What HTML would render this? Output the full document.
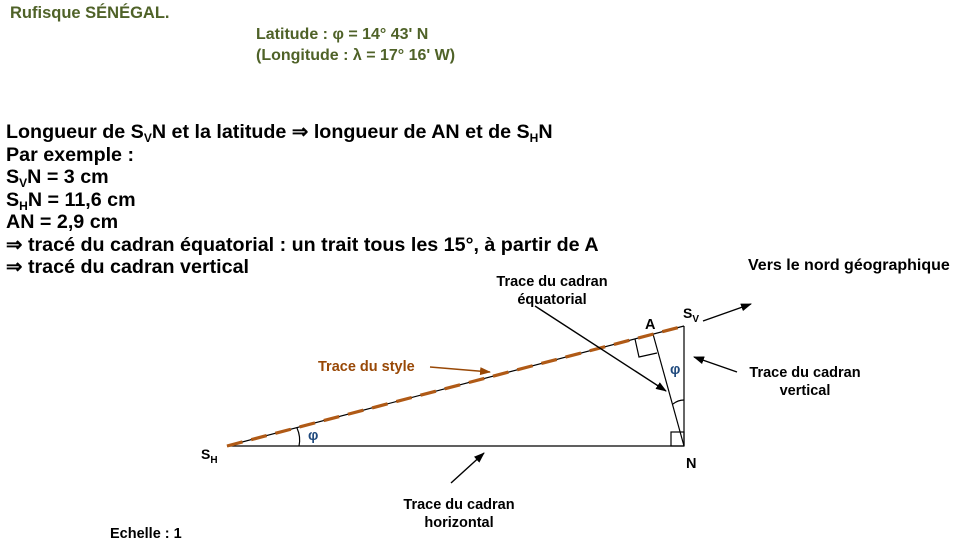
<!DOCTYPE html>
<html><head><meta charset="utf-8"><style>
body{margin:0;width:966px;height:545px;background:#fff;overflow:hidden;font-family:"Liberation Sans",sans-serif;font-weight:bold}
.t{position:absolute;white-space:nowrap}
.g{color:#4f6228;font-size:16.5px}
.b{color:#000;font-size:19.7px;line-height:22.5px}
.s{color:#000;font-size:14.5px;text-align:center}
sub{font-size:12px;vertical-align:0;position:relative;top:4px;line-height:0}
</style></head><body>
<div class="t g" style="left:10px;top:4px">Rufisque SÉNÉGAL.</div>
<div class="t g" style="left:256px;top:24px;line-height:21px;font-size:16px">Latitude : φ = 14° 43' N<br>(Longitude : λ = 17° 16' W)</div>
<div class="t b" style="left:6px;top:121px">Longueur de S<sub>V</sub>N et la latitude ⇒ longueur de AN et de S<sub>H</sub>N<br>Par exemple :<br>S<sub>V</sub>N = 3 cm<br>S<sub>H</sub>N = 11,6 cm<br>AN = 2,9 cm<br>⇒ tracé du cadran équatorial : un trait tous les 15°, à partir de A<br>⇒ tracé du cadran vertical</div>
<div class="t s" style="left:748px;top:257px;font-size:16px;text-align:left">Vers le nord géographique</div>
<div class="t s" style="left:477px;top:273px;line-height:18px;width:150px">Trace du cadran<br>équatorial</div>
<div class="t s" style="left:730px;top:364px;line-height:18px;width:150px">Trace du cadran<br>vertical</div>
<div class="t s" style="left:384px;top:496px;line-height:18px;width:150px">Trace du cadran<br>horizontal</div>
<div class="t s" style="left:318px;top:359px;color:#984806">Trace du style</div>
<div class="t s" style="left:110px;top:526px">Echelle : 1</div>
<div class="t s" style="left:201px;top:446px;font-size:14px">S<span style="font-size:10px;position:relative;top:4px">H</span></div>
<div class="t s" style="left:683px;top:305px;font-size:14px">S<span style="font-size:10px;position:relative;top:4px">V</span></div>
<div class="t s" style="left:645px;top:317px">A</div>
<div class="t s" style="left:686px;top:456px">N</div>
<div class="t s" style="left:308px;top:428px;color:#1f497d">φ</div>
<div class="t s" style="left:670px;top:362px;color:#1f497d">φ</div>
<svg width="966" height="545" style="position:absolute;left:0;top:0">
<defs><marker id="ah" markerWidth="11" markerHeight="8" refX="10" refY="4" orient="auto" markerUnits="userSpaceOnUse"><path d="M0,0L11,4L0,8z" fill="#000"/></marker>
<marker id="ao" markerWidth="11" markerHeight="8" refX="10" refY="4" orient="auto" markerUnits="userSpaceOnUse"><path d="M0,0L11,4L0,8z" fill="#984806"/></marker></defs>
<g stroke="#000" stroke-width="1.2" fill="none">
<line x1="227" y1="446" x2="684" y2="446"/>
<line x1="684" y1="326" x2="684" y2="446"/>
<line x1="227" y1="446" x2="684" y2="326"/>
<line x1="684" y1="446" x2="653" y2="334"/>
<polyline points="635,339 639,357 657,353"/>
<rect x="671" y="432" width="13" height="14"/>
<path d="M673,404 Q678,400 684,400"/>
<path d="M297,428 Q301,437 299,446"/>
</g>
<line x1="227" y1="446" x2="684" y2="326" stroke="#b05a16" stroke-width="3.2" stroke-dasharray="16,9"/>
<g stroke="#000" stroke-width="1.4">
<line x1="703" y1="321" x2="751" y2="304" marker-end="url(#ah)"/>
<line x1="737" y1="372" x2="694" y2="357" marker-end="url(#ah)"/>
<line x1="535" y1="306" x2="666" y2="391" marker-end="url(#ah)"/>
<line x1="451" y1="483" x2="484" y2="453" marker-end="url(#ah)"/>
</g>
<line x1="430" y1="367" x2="490" y2="372" stroke="#984806" stroke-width="1.4" marker-end="url(#ao)"/>
</svg>
</body></html>
